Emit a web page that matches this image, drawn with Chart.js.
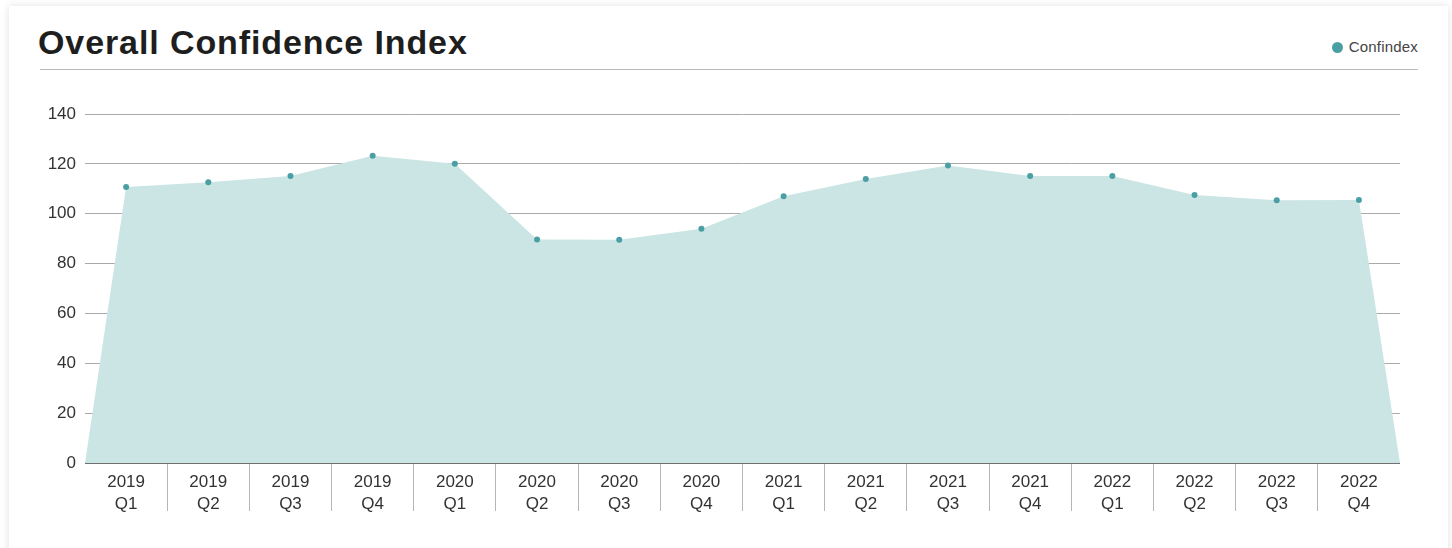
<!DOCTYPE html>
<html>
<head>
<meta charset="utf-8">
<script src="https://cdn.jsdelivr.net/npm/chart.js@4.4.1/dist/chart.umd.min.js"></script>
<style>
  html, body { margin: 0; padding: 0; background: #fff; }
  body { width: 1452px; height: 548px; position: relative; overflow: hidden; font-family: 'Liberation Sans', Arial, sans-serif; }
  .card {
    position: absolute; left: 9px; top: 6px; width: 1439px; height: 560px;
    background: #fff; box-shadow: 0 0 8px rgba(0,0,0,0.12);
  }
  .title {
    position: absolute; left: 38px; top: 22px; margin: 0;
    font-size: 34px; font-weight: bold; color: #1e1e1e; line-height: 40px; letter-spacing: 0.9px;
  }
  .divider { position: absolute; left: 40px; top: 69px; width: 1378px; height: 1px; background: #bbb; }
  .legend { position: absolute; right: 34px; top: 37px; font-size: 15px; color: #444; line-height: 20px; letter-spacing: 0.2px; }
  .legend .dot { display: inline-block; width: 11px; height: 11px; border-radius: 50%; background: #4a9fa5; margin-right: 6px; vertical-align: -1px; }
  .wrap { position: absolute; left: 30px; top: 91px; width: 1374px; height: 457px; }
</style>
</head>
<body>
<div class="card"></div>
<h1 class="title">Overall Confidence Index</h1>
<div class="legend"><span class="dot"></span>Confindex</div>
<div class="divider"></div>
<div class="wrap"><canvas id="chart"></canvas></div>
<script>
// Data
const years = ['2019', '2019', '2019', '2019', '2020', '2020', '2020', '2020',
               '2021', '2021', '2021', '2021', '2022', '2022', '2022', '2022'];
const quarters = ['Q1', 'Q2', 'Q3', 'Q4', 'Q1', 'Q2', 'Q3', 'Q4',
                  'Q1', 'Q2', 'Q3', 'Q4', 'Q1', 'Q2', 'Q3', 'Q4'];
const confindex = [110.7, 112.6, 115.1, 123.3, 120.0, 89.7, 89.6, 94.0,
                   107.0, 113.9, 119.3, 115.1, 115.1, 107.5, 105.4, 105.5];
const yTicks = [0, 20, 40, 60, 80, 100, 120, 140];

const labels = years.map((y, i) => [y, quarters[i]]);

// area runs down to zero at the outer edges of the first and last category
const areaPoints = [{ x: -0.5, y: 0 }]
  .concat(confindex.map((v, i) => ({ x: i, y: v })))
  .concat([{ x: confindex.length - 0.5, y: 0 }]);
const dotPoints = confindex.map((v, i) => ({ x: i, y: v }));

const font = "'Liberation Sans', Arial, sans-serif";

new Chart(document.getElementById('chart').getContext('2d'), {
  type: 'line',
  data: {
    labels: labels,
    datasets: [
      {
        label: 'Confindex',
        data: dotPoints,
        xAxisID: 'x',
        showLine: false,
        pointRadius: 3,
        pointBackgroundColor: '#4a9fa5',
        pointBorderWidth: 0,
        order: 0
      },
      {
        label: 'area',
        data: areaPoints,
        xAxisID: 'x',
        fill: 'origin',
        backgroundColor: '#cbe5e4',
        borderWidth: 0,
        pointRadius: 0,
        tension: 0,
        order: 1
      }
    ]
  },
  options: {
    responsive: true,
    maintainAspectRatio: false,
    animation: false,
    layout: { padding: { top: 23, right: 0, left: 0, bottom: 0 } },
    scales: {
      x: {
        type: 'linear',
        min: -0.5,
        max: confindex.length - 0.5,
        display: false
      },
      xl: {
        type: 'category',
        position: 'bottom',
        offset: true,
        afterFit: scale => { scale.height = 85; },
        border: { display: false },
        grid: {
          offset: true,
          drawOnChartArea: false,
          tickLength: 48,
          color: ctx => (ctx.index === undefined || ctx.index === 0) ? 'rgba(0,0,0,0)' : '#b5b5b5'
        },
        ticks: {
          color: '#333',
          padding: -40,
          maxRotation: 0,
          autoSkip: false,
          font: { size: 17, family: font, lineHeight: 1.3 }
        }
      },
      y: {
        min: 0,
        max: 140,
        afterFit: scale => { scale.width = 55; },
        afterBuildTicks: scale => { scale.ticks = yTicks.map(v => ({ value: v })); },
        border: { display: false },
        grid: {
          drawTicks: false,
          color: ctx => (ctx.tick && ctx.tick.value === 0) ? '#707070' : '#aaa',
          lineWidth: ctx => (ctx.tick && ctx.tick.value === 0) ? 2 : 1
        },
        ticks: {
          color: '#333',
          padding: 9,
          font: { size: 17, family: font }
        }
      }
    },
    plugins: {
      legend: { display: false },
      tooltip: { enabled: false }
    }
  }
});
</script>
</body>
</html>
